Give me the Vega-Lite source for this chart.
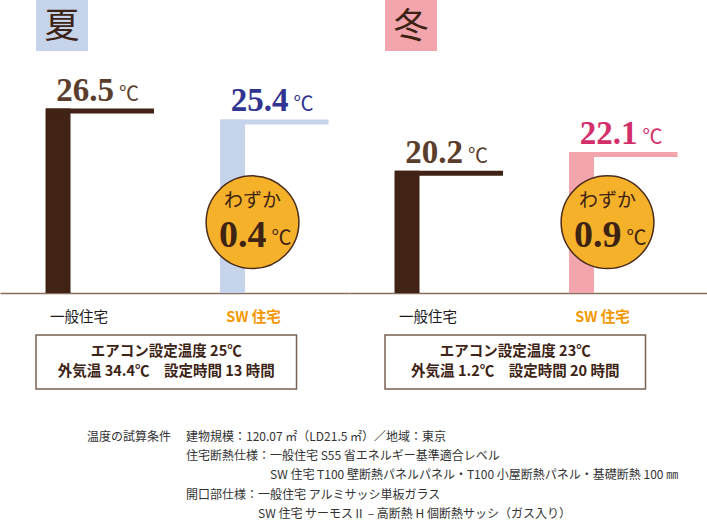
{
  "$schema": "https://vega.github.io/schema/vega-lite/v6.json",
  "padding": 0,
  "background": "white",
  "config": {"view": {"stroke": null}, "font": "Noto Sans CJK JP"},
  "datasets": {
    "temps": [
      {"season": "夏", "house": "一般住宅", "temp": 26.5},
      {"season": "夏", "house": "SW 住宅", "temp": 25.4, "diff": 0.4},
      {"season": "冬", "house": "一般住宅", "temp": 20.2},
      {"season": "冬", "house": "SW 住宅", "temp": 22.1, "diff": 0.9}
    ],
    "seasons": [{"season": "夏"}, {"season": "冬"}],
    "conditions": [
      {"season": "夏", "line": 1, "text": "エアコン設定温度 25℃"},
      {"season": "夏", "line": 2, "text": "外気温 34.4℃　設定時間 13 時間"},
      {"season": "冬", "line": 1, "text": "エアコン設定温度 23℃"},
      {"season": "冬", "line": 2, "text": "外気温 1.2℃　設定時間 20 時間"}
    ],
    "notes": [
      {"line": 1, "col": "見出し", "text": "温度の試算条件"},
      {"line": 1, "col": "内容", "text": "建物規模：120.07 ㎡（LD21.5 ㎡）／地域：東京"},
      {"line": 2, "col": "内容", "text": "住宅断熱仕様：一般住宅 S55 省エネルギー基準適合レベル"},
      {"line": 3, "col": "内容", "text": "\u200b　　　　　　　SW 住宅 T100 壁断熱パネルパネル・T100 小屋断熱パネル・基礎断熱 100 ㎜"},
      {"line": 4, "col": "内容", "text": "開口部仕様：一般住宅 アルミサッシ単板ガラス"},
      {"line": 5, "col": "内容", "text": "\u200b　　　　　　SW 住宅 サーモスⅡ – 高断熱 H 個断熱サッシ（ガス入り）"}
    ]
  },
  "spacing": 10,
  "vconcat": [
    {
      "spacing": 0,
      "hconcat": [
        {
          "width": 349, "height": 51,
          "data": {"name": "seasons"},
          "transform": [{"filter": "datum.season === '夏'"}],
          "layer": [
            {"mark": {"type": "bar", "width": 52, "xOffset": -17, "color": "#c5d3eb"},
             "encoding": {"x": {"datum": "一般住宅", "type": "nominal", "scale": {"type": "band", "domain": ["一般住宅", "SW 住宅"], "paddingInner": 0.507, "paddingOuter": 0.2535, "align": 0.407}, "axis": null}}},
            {"mark": {"type": "text", "xOffset": -17, "dy": 1, "fontSize": 35, "color": "#3d2314", "baseline": "middle", "font": "Noto Sans CJK JP"},
             "encoding": {"x": {"datum": "一般住宅", "type": "nominal", "scale": {"type": "band", "domain": ["一般住宅", "SW 住宅"], "paddingInner": 0.507, "paddingOuter": 0.2535, "align": 0.407}, "axis": null}, "text": {"field": "season"}}}
          ]
        },
        {
          "width": 358, "height": 51,
          "data": {"name": "seasons"},
          "transform": [{"filter": "datum.season === '冬'"}],
          "layer": [
            {"mark": {"type": "bar", "width": 52, "xOffset": -17, "color": "#f2a5ac"},
             "encoding": {"x": {"datum": "一般住宅", "type": "nominal", "scale": {"type": "band", "domain": ["一般住宅", "SW 住宅"], "paddingInner": 0.507, "paddingOuter": 0.2793, "align": 0.3693}, "axis": null}}},
            {"mark": {"type": "text", "xOffset": -17, "dy": 1, "fontSize": 35, "color": "#3d2314", "baseline": "middle", "font": "Noto Sans CJK JP"},
             "encoding": {"x": {"datum": "一般住宅", "type": "nominal", "scale": {"type": "band", "domain": ["一般住宅", "SW 住宅"], "paddingInner": 0.507, "paddingOuter": 0.2793, "align": 0.3693}, "axis": null}, "text": {"field": "season"}}}
          ]
        }
      ]
    },
    {
      "spacing": 0,
      "resolve": {"scale": {"fill": "independent", "color": "independent"}},
      "hconcat": [
        {
          "width": 349, "height": 232,
          "data": {"name": "temps"},
          "transform": [{"filter": "datum.season === '夏'"}],
          "encoding": {
            "x": {"field": "house", "type": "nominal", "sort": null,
                  "scale": {"type": "band", "domain": ["一般住宅", "SW 住宅"], "paddingInner": 0.507, "paddingOuter": 0.2535, "align": 0.407},
                  "axis": {"title": null, "domain": true, "domainColor": "#85705f", "domainWidth": 1.5, "ticks": false, "tickSize": 0, "grid": false, "labelAngle": 0, "labelPadding": 17, "labelFont": "Noto Sans CJK JP", "labelFontSize": 14.5,
                           "labelColor": {"condition": {"test": "datum.value === 'SW 住宅'", "value": "#f39800"}, "value": "#1a1a1a"},
                           "labelFontWeight": {"condition": {"test": "datum.value === 'SW 住宅'", "value": "bold"}, "value": "normal"}}},
            "y": {"field": "temp", "type": "quantitative", "scale": {"domain": [7.84, 31.31], "zero": false, "nice": false}, "axis": null}
          },
          "layer": [
            {"mark": {"type": "bar", "width": 25, "xOffset": -21},
             "encoding": {"y2": {"datum": 7.84}, "fill": {"field": "house", "type": "nominal", "scale": {"domain": ["一般住宅", "SW 住宅"], "range": ["#402314", "#c5d3eb"]}, "legend": null}}},
            {"mark": {"type": "tick", "size": 108, "thickness": 5, "xOffset": 21, "yOffset": 2.5, "opacity": 1},
             "encoding": {"fill": {"field": "house", "type": "nominal", "scale": {"domain": ["一般住宅", "SW 住宅"], "range": ["#402314", "#c5d3eb"]}, "legend": null}}},
            {"mark": {"type": "text", "align": "right", "baseline": "alphabetic", "dx": 35, "dy": -8, "font": "Liberation Serif", "fontWeight": "bold", "fontSize": 33},
             "encoding": {"text": {"field": "temp", "type": "quantitative", "format": ".1f"}, "color": {"field": "house", "type": "nominal", "scale": {"domain": ["一般住宅", "SW 住宅"], "range": ["#5b3d2c", "#2f3590"]}, "legend": null}}},
            {"mark": {"type": "text", "text": "℃", "align": "left", "baseline": "alphabetic", "dx": 40, "dy": -8, "fontSize": 20, "font": "Noto Sans CJK JP"},
             "encoding": {"color": {"field": "house", "type": "nominal", "scale": {"domain": ["一般住宅", "SW 住宅"], "range": ["#5b3d2c", "#2f3590"]}, "legend": null}}},
            {"transform": [{"filter": "isValid(datum.diff)"}],
             "mark": {"type": "point", "shape": "circle", "filled": true, "size": 8600, "fill": "#f6b12b", "stroke": "#4a2c1a", "strokeWidth": 1.5, "opacity": 1, "xOffset": -1},
             "encoding": {"y": {"datum": 15.0}}},
            {"transform": [{"filter": "isValid(datum.diff)"}],
             "mark": {"type": "text", "text": "わずか", "baseline": "middle", "xOffset": -1, "dy": -21, "fontSize": 19, "color": "#3d2314", "font": "Noto Sans CJK JP"},
             "encoding": {"y": {"datum": 15.0}}},
            {"transform": [{"filter": "isValid(datum.diff)"}],
             "mark": {"type": "text", "align": "right", "baseline": "alphabetic", "xOffset": -1, "dx": 14, "dy": 25, "font": "Liberation Serif", "fontWeight": "bold", "fontSize": 38, "color": "#3d2314"},
             "encoding": {"y": {"datum": 15.0}, "text": {"field": "diff", "type": "quantitative", "format": ".1f"}}},
            {"transform": [{"filter": "isValid(datum.diff)"}],
             "mark": {"type": "text", "text": "℃", "align": "left", "baseline": "alphabetic", "xOffset": -1, "dx": 19, "dy": 23, "fontSize": 20, "color": "#3d2314", "font": "Noto Sans CJK JP"},
             "encoding": {"y": {"datum": 15.0}}}
          ]
        },
        {
          "width": 358, "height": 232,
          "data": {"name": "temps"},
          "transform": [{"filter": "datum.season === '冬'"}],
          "encoding": {
            "x": {"field": "house", "type": "nominal", "sort": null,
                  "scale": {"type": "band", "domain": ["一般住宅", "SW 住宅"], "paddingInner": 0.507, "paddingOuter": 0.2793, "align": 0.3693},
                  "axis": {"title": null, "domain": true, "domainColor": "#85705f", "domainWidth": 1.5, "ticks": false, "tickSize": 0, "grid": false, "labelAngle": 0, "labelPadding": 17, "labelFont": "Noto Sans CJK JP", "labelFontSize": 14.5,
                           "labelColor": {"condition": {"test": "datum.value === 'SW 住宅'", "value": "#f39800"}, "value": "#1a1a1a"},
                           "labelFontWeight": {"condition": {"test": "datum.value === 'SW 住宅'", "value": "bold"}, "value": "normal"}}},
            "y": {"field": "temp", "type": "quantitative", "scale": {"domain": [7.84, 31.31], "zero": false, "nice": false}, "axis": null}
          },
          "layer": [
            {"mark": {"type": "bar", "width": 25, "xOffset": -21},
             "encoding": {"y2": {"datum": 7.84}, "fill": {"field": "house", "type": "nominal", "scale": {"domain": ["一般住宅", "SW 住宅"], "range": ["#402314", "#f2a5ac"]}, "legend": null}}},
            {"mark": {"type": "tick", "size": 108, "thickness": 5, "xOffset": 21, "yOffset": 2.5, "opacity": 1},
             "encoding": {"fill": {"field": "house", "type": "nominal", "scale": {"domain": ["一般住宅", "SW 住宅"], "range": ["#402314", "#f2a5ac"]}, "legend": null}}},
            {"mark": {"type": "text", "align": "right", "baseline": "alphabetic", "dx": 35, "dy": -8, "font": "Liberation Serif", "fontWeight": "bold", "fontSize": 33},
             "encoding": {"text": {"field": "temp", "type": "quantitative", "format": ".1f"}, "color": {"field": "house", "type": "nominal", "scale": {"domain": ["一般住宅", "SW 住宅"], "range": ["#5b3d2c", "#d42f6a"]}, "legend": null}}},
            {"mark": {"type": "text", "text": "℃", "align": "left", "baseline": "alphabetic", "dx": 40, "dy": -8, "fontSize": 20, "font": "Noto Sans CJK JP"},
             "encoding": {"color": {"field": "house", "type": "nominal", "scale": {"domain": ["一般住宅", "SW 住宅"], "range": ["#5b3d2c", "#d42f6a"]}, "legend": null}}},
            {"transform": [{"filter": "isValid(datum.diff)"}],
             "mark": {"type": "point", "shape": "circle", "filled": true, "size": 8600, "fill": "#f6b12b", "stroke": "#4a2c1a", "strokeWidth": 1.5, "opacity": 1, "xOffset": 5},
             "encoding": {"y": {"datum": 15.0}}},
            {"transform": [{"filter": "isValid(datum.diff)"}],
             "mark": {"type": "text", "text": "わずか", "baseline": "middle", "xOffset": 5, "dy": -21, "fontSize": 19, "color": "#3d2314", "font": "Noto Sans CJK JP"},
             "encoding": {"y": {"datum": 15.0}}},
            {"transform": [{"filter": "isValid(datum.diff)"}],
             "mark": {"type": "text", "align": "right", "baseline": "alphabetic", "xOffset": 5, "dx": 14, "dy": 25, "font": "Liberation Serif", "fontWeight": "bold", "fontSize": 38, "color": "#3d2314"},
             "encoding": {"y": {"datum": 15.0}, "text": {"field": "diff", "type": "quantitative", "format": ".1f"}}},
            {"transform": [{"filter": "isValid(datum.diff)"}],
             "mark": {"type": "text", "text": "℃", "align": "left", "baseline": "alphabetic", "xOffset": 5, "dx": 19, "dy": 23, "fontSize": 20, "color": "#3d2314", "font": "Noto Sans CJK JP"},
             "encoding": {"y": {"datum": 15.0}}}
          ]
        }
      ]
    },
    {
      "spacing": 0,
      "hconcat": [
        {
          "width": 349, "height": 54,
          "data": {"name": "conditions"},
          "transform": [{"filter": "datum.season === '夏'"}],
          "layer": [
            {"transform": [{"filter": "datum.line === 1"}],
             "mark": {"type": "bar", "width": 260.5, "xOffset": 87.25, "fill": "#ffffff", "stroke": "#7b6152", "strokeWidth": 1.5},
             "encoding": {"x": {"datum": "一般住宅", "type": "nominal", "scale": {"type": "band", "domain": ["一般住宅", "SW 住宅"], "paddingInner": 0.507, "paddingOuter": 0.2535, "align": 0.407}, "axis": null}}},
            {"mark": {"type": "text", "xOffset": 87.25, "baseline": "middle", "fontSize": 14.5, "fontWeight": "bold", "color": "#3d2314", "font": "Noto Sans CJK JP"},
             "encoding": {"x": {"datum": "一般住宅", "type": "nominal", "scale": {"type": "band", "domain": ["一般住宅", "SW 住宅"], "paddingInner": 0.507, "paddingOuter": 0.2535, "align": 0.407}, "axis": null},
                          "y": {"field": "line", "type": "ordinal", "scale": {"type": "point", "padding": 0.92, "align": 0.5}, "axis": null},
                          "text": {"field": "text"}}}
          ]
        },
        {
          "width": 358, "height": 54,
          "data": {"name": "conditions"},
          "transform": [{"filter": "datum.season === '冬'"}],
          "layer": [
            {"transform": [{"filter": "datum.line === 1"}],
             "mark": {"type": "bar", "width": 260.5, "xOffset": 87.25, "fill": "#ffffff", "stroke": "#7b6152", "strokeWidth": 1.5},
             "encoding": {"x": {"datum": "一般住宅", "type": "nominal", "scale": {"type": "band", "domain": ["一般住宅", "SW 住宅"], "paddingInner": 0.507, "paddingOuter": 0.2793, "align": 0.3693}, "axis": null}}},
            {"mark": {"type": "text", "xOffset": 87.25, "baseline": "middle", "fontSize": 14.5, "fontWeight": "bold", "color": "#3d2314", "font": "Noto Sans CJK JP"},
             "encoding": {"x": {"datum": "一般住宅", "type": "nominal", "scale": {"type": "band", "domain": ["一般住宅", "SW 住宅"], "paddingInner": 0.507, "paddingOuter": 0.2793, "align": 0.3693}, "axis": null},
                          "y": {"field": "line", "type": "ordinal", "scale": {"type": "point", "padding": 0.92, "align": 0.5}, "axis": null},
                          "text": {"field": "text"}}}
          ]
        }
      ]
    },
    {
      "width": 297, "height": 115.5,
      "data": {"name": "notes"},
      "mark": {"type": "text", "align": "left", "baseline": "middle", "fontSize": 12, "color": "#333333", "font": "Noto Sans CJK JP"},
      "encoding": {
        "x": {"field": "col", "type": "nominal", "scale": {"type": "point", "domain": ["見出し", "内容"], "padding": 1, "align": 0.4394}, "axis": null},
        "y": {"field": "line", "type": "ordinal", "scale": {"type": "point", "padding": 1, "align": 0.96}, "axis": null},
        "text": {"field": "text"}
      }
    }
  ]
}
